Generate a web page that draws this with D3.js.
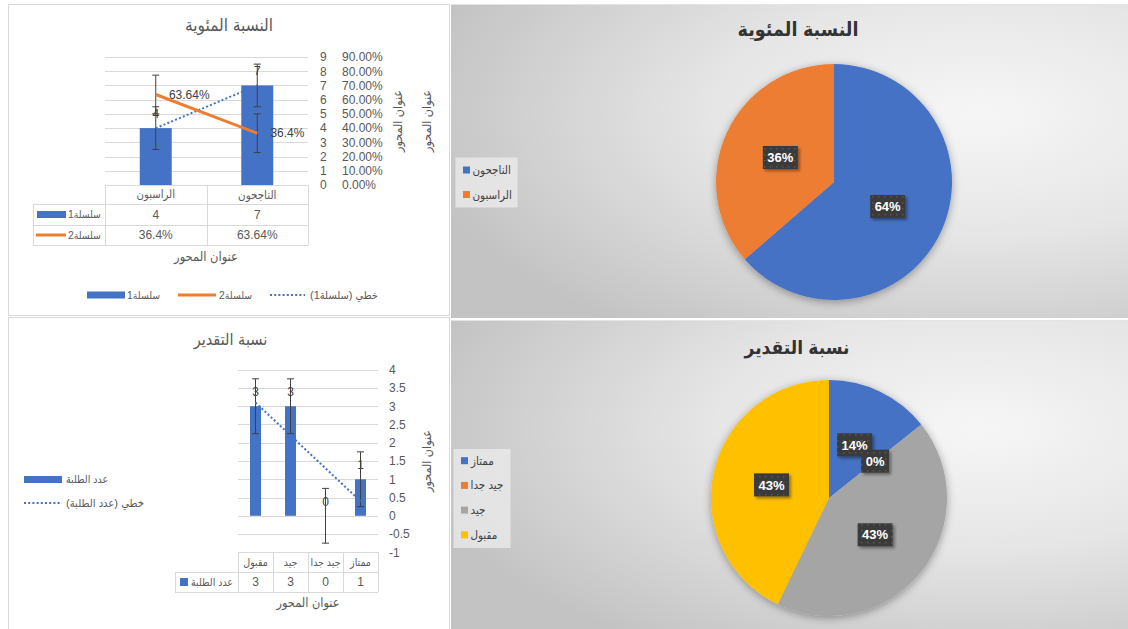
<!DOCTYPE html>
<html><head><meta charset="utf-8">
<script src="https://cdn.jsdelivr.net/npm/d3@7"></script>
<style>
html,body{margin:0;padding:0;background:#fff;}
svg{display:block;font-family:"Liberation Sans","DejaVu Sans Condensed","DejaVu Sans",sans-serif;}
</style></head><body>
<svg id="chart" width="1128" height="629"></svg>
<script>
// ---------- DATA ----------
// Chart 1 (top-left): النسبة المئوية
const c1Title = "النسبة المئوية";
const c1Categories = ["الراسبون", "الناجحون"];
const c1Series1 = [4, 7];              // سلسلة1 (bars)
const c1Series2 = [0.364, 0.6364];     // سلسلة2 (line, secondary axis, reversed category order)
const c1Series2Labels = ["36.4%", "63.64%"];
const c1Err1 = 1.5;                    // standard error of سلسلة1
const c1Err2 = 0.136;                  // standard error of سلسلة2
const c1YTicks = [0, 1, 2, 3, 4, 5, 6, 7, 8, 9];
const c1Y2Ticks = [0, 0.1, 0.2, 0.3, 0.4, 0.5, 0.6, 0.7, 0.8, 0.9];
const c1SeriesNames = ["سلسلة1", "سلسلة2", "خطي (سلسلة1)"];
const axisTitle = "عنوان المحور";

// Chart 2 (bottom-left): نسبة التقدير
const c2Title = "نسبة التقدير";
const c2Categories = ["مقبول", "جيد", "جيد جدا", "ممتاز"];
const c2Values = [3, 3, 0, 1];
const c2Err = 0.75;
const c2YTicks = [-1, -0.5, 0, 0.5, 1, 1.5, 2, 2.5, 3, 3.5, 4];
const c2SeriesNames = ["عدد الطلبة", "خطي (عدد الطلبة)"];

// Pie 1 (top-right)
const p1Title = "النسبة المئوية";
const p1Categories = ["الناجحون", "الراسبون"];
const p1Values = [7, 4];
const p1Colors = ["#4472C4", "#ED7D31"];

// Pie 2 (bottom-right)
const p2Title = "نسبة التقدير";
const p2Categories = ["ممتاز", "جيد جدا", "جيد", "مقبول"];
const p2Values = [1, 0, 3, 3];
const p2Colors = ["#4472C4", "#ED7D31", "#A5A5A5", "#FFC000"];

// ---------- HELPERS ----------
const BLUE = "#4472C4", ORANGE = "#ED7D31", TXT = "#595959", LBL = "#404040", GRID = "#d9d9d9";
const svg = d3.select("#chart");
const defs = svg.append("defs");

const grad = defs.append("radialGradient").attr("id", "bg")
  .attr("cx", 0.78).attr("cy", 0.35).attr("r", 0.85).attr("fx", 0.78).attr("fy", 0.35);
grad.append("stop").attr("offset", 0).attr("stop-color", "#f6f6f6");
grad.append("stop").attr("offset", 0.45).attr("stop-color", "#e6e6e6");
grad.append("stop").attr("offset", 1).attr("stop-color", "#c3c3c3");

const pat = defs.append("pattern").attr("id", "dots").attr("width", 6).attr("height", 6)
  .attr("patternUnits", "userSpaceOnUse");
pat.append("rect").attr("width", 6).attr("height", 6).attr("fill", "#3b3b3b");
pat.append("rect").attr("x", 2).attr("y", 2).attr("width", 1.5).attr("height", 1.5).attr("fill", "#575757");

const sh = defs.append("filter").attr("id", "shadow").attr("x", "-30%").attr("y", "-30%")
  .attr("width", "160%").attr("height", "160%");
sh.append("feDropShadow").attr("dx", 0).attr("dy", 2).attr("stdDeviation", 4)
  .attr("flood-color", "#000").attr("flood-opacity", 0.35);
const sh2 = defs.append("filter").attr("id", "shadow2").attr("x", "-30%").attr("y", "-30%")
  .attr("width", "160%").attr("height", "160%");
sh2.append("feDropShadow").attr("dx", 2).attr("dy", 2).attr("stdDeviation", 1.5)
  .attr("flood-color", "#000").attr("flood-opacity", 0.4);

// text helper; o.w = target rendered width (font size is adjusted toward it, min 10px)
function txt(g, s, x, y, o = {}) {
  let size = o.size || 12;
  const t = g.append("text").text(s)
    .attr("x", x).attr("y", y).attr("dy", "0.35em")
    .attr("text-anchor", "middle")
    .attr("font-size", size)
    .attr("fill", o.fill || TXT)
    .attr("direction", o.rtl ? "rtl" : null)
    .attr("font-weight", o.bold ? "bold" : null);
  if (o.transform) t.attr("transform", o.transform);
  let w = t.node().getBBox().width;
  if (o.w && w > 0) {
    size = Math.max(o.min || 10, size * o.w / w);
    t.attr("font-size", size.toFixed(2));
    w = t.node().getBBox().width;
  }
  if (o.align === "left" || o.align === "right") {
    t.attr("x", o.align === "left" ? x + w / 2 : x - w / 2);
  }
  return t;
}
function linreg(vals) {
  const xs = vals.map((_, i) => i + 1);
  const mx = d3.mean(xs), my = d3.mean(vals);
  const b = d3.sum(xs.map((x, i) => (x - mx) * (vals[i] - my))) / d3.sum(xs.map(x => (x - mx) ** 2));
  return x => my + b * (x - mx);
}
function errBar(g, x, yA, yB) {
  g.append("line").attr("x1", x).attr("x2", x).attr("y1", yA).attr("y2", yB);
  g.append("line").attr("x1", x - 3.5).attr("x2", x + 3.5).attr("y1", yA).attr("y2", yA);
  g.append("line").attr("x1", x - 3.5).attr("x2", x + 3.5).attr("y1", yB).attr("y2", yB);
}
function hline(g, x1, x2, y) {
  g.append("line").attr("x1", x1).attr("x2", x2).attr("y1", y).attr("y2", y).attr("stroke", GRID);
}
function vline(g, x, y1, y2) {
  g.append("line").attr("x1", x).attr("x2", x).attr("y1", y1).attr("y2", y2).attr("stroke", GRID);
}

// ---------- CHART 1 ----------
(function () {
  const g = svg.append("g");
  g.append("rect").attr("x", 8.5).attr("y", 4.5).attr("width", 441).attr("height", 311)
    .attr("fill", "#fff").attr("stroke", GRID);
  txt(g, c1Title, 229, 25, { size: 14, rtl: true, w: 88 });

  const x = d3.scaleBand().domain(c1Categories).range([105, 308]);
  const x2 = d3.scaleBand().domain(c1Categories.slice().reverse()).range([105, 308]);
  const y = d3.scaleLinear().domain([0, 9]).range([185, 57]);
  const y2 = d3.scaleLinear().domain([0, 0.9]).range([185, 57]);
  const bw = x.bandwidth(), barW = bw * 0.315;

  c1YTicks.filter(d => d > 0).forEach(d => hline(g, 105, 308, Math.round(y(d)) + 0.5));

  const ax1 = g.append("g").attr("transform", "translate(320,0)")
    .call(d3.axisRight(y).tickValues(c1YTicks).tickSize(0).tickPadding(0).tickFormat(d3.format("d")));
  const ax2 = g.append("g").attr("transform", "translate(342,0)")
    .call(d3.axisRight(y2).tickValues(c1Y2Ticks).tickSize(0).tickPadding(0).tickFormat(d3.format(".2%")));
  [ax1, ax2].forEach(a => {
    a.select(".domain").remove();
    a.attr("font-size", 12).attr("font-family", null).attr("color", TXT);
  });
  [398, 427].forEach(px => {
    txt(g, axisTitle, 0, 0, { size: 12, rtl: true, w: 63, transform: `translate(${px},121) rotate(-90)` });
  });

  // bars
  g.selectAll("rect.bar").data(c1Series1).join("rect")
    .attr("x", (d, i) => x(c1Categories[i]) + (bw - barW) / 2)
    .attr("width", barW)
    .attr("y", d => y(d)).attr("height", d => y(0) - y(d)).attr("fill", BLUE);

  const eg = g.append("g").attr("stroke", "#404040").attr("stroke-width", 1);
  c1Series1.forEach((d, i) => errBar(eg, x(c1Categories[i]) + bw / 2, y(d + c1Err1), y(d - c1Err1)));

  // trendline
  const tr = linreg(c1Series1);
  g.append("line")
    .attr("x1", x(c1Categories[0]) + bw / 2).attr("y1", y(tr(1)))
    .attr("x2", x(c1Categories[c1Categories.length - 1]) + bw / 2).attr("y2", y(tr(c1Categories.length)))
    .attr("stroke", BLUE).attr("stroke-width", 2).attr("stroke-dasharray", "2,2.2");

  // line series
  const pts = c1Series2.map((d, i) => [x2(c1Categories[i]) + bw / 2, y2(d)]);
  g.append("path").attr("d", d3.line()(pts.slice().sort((a, b) => a[0] - b[0])))
    .attr("fill", "none").attr("stroke", ORANGE).attr("stroke-width", 3);
  c1Series2.forEach((d, i) => errBar(eg, pts[i][0], y2(d + c1Err2), y2(d - c1Err2)));

  // labels
  c1Series1.forEach((d, i) => txt(g, d, x(c1Categories[i]) + bw / 2, y(d) - 14.5, { fill: LBL }));
  c1Series2Labels.forEach((s, i) => txt(g, s, pts[i][0] + 13, pts[i][1], { fill: LBL, align: "left" }));

  // data table
  const cols = [105, ...c1Categories.map(c => x(c) + bw)];
  const r0 = 185, r1 = 204, r2 = 225, r3 = 245, lx = 33;
  hline(g, 105, 308, r0 + 0.5);
  [r1, r2, r3].forEach(r => hline(g, lx, 308, r + 0.5));
  vline(g, lx + 0.5, r1, r3);
  cols.forEach(c => vline(g, Math.round(c) + 0.5, r0, r3));
  c1Categories.forEach(c => txt(g, c, x(c) + bw / 2, (r0 + r1) / 2, { size: 11, rtl: true, w: 38.5 }));
  c1Series1.forEach((d, i) => txt(g, d, x(c1Categories[i]) + bw / 2, (r1 + r2) / 2));
  c1Series2Labels.forEach((s, i) => txt(g, s, x(c1Categories[i]) + bw / 2, (r2 + r3) / 2));
  g.append("rect").attr("x", 37).attr("y", 211).attr("width", 29).attr("height", 7).attr("fill", BLUE);
  g.append("line").attr("x1", 36).attr("x2", 66).attr("y1", 235).attr("y2", 235).attr("stroke", ORANGE).attr("stroke-width", 3);
  txt(g, c1SeriesNames[0], 101, (r1 + r2) / 2, { size: 11, rtl: true, align: "right", w: 33 });
  txt(g, c1SeriesNames[1], 101, (r2 + r3) / 2, { size: 11, rtl: true, align: "right", w: 33 });
  txt(g, axisTitle, 206, 257, { size: 12, rtl: true, w: 65 });

  // legend
  const ly = 295;
  g.append("rect").attr("x", 87).attr("y", ly - 3.5).attr("width", 38).attr("height", 7).attr("fill", BLUE);
  txt(g, c1SeriesNames[0], 127, ly, { size: 11, rtl: true, align: "left", w: 33 });
  g.append("line").attr("x1", 178).attr("x2", 216).attr("y1", ly).attr("y2", ly).attr("stroke", ORANGE).attr("stroke-width", 3);
  txt(g, c1SeriesNames[1], 219, ly, { size: 11, rtl: true, align: "left", w: 33 });
  g.append("line").attr("x1", 270).attr("x2", 305).attr("y1", ly).attr("y2", ly).attr("stroke", BLUE)
    .attr("stroke-width", 2).attr("stroke-dasharray", "2,2.2");
  txt(g, c1SeriesNames[2], 310, ly, { size: 11, rtl: true, align: "left", w: 68 });
})();

// ---------- CHART 2 ----------
(function () {
  const g = svg.append("g");
  g.append("rect").attr("x", 8.5).attr("y", 317.5).attr("width", 441).attr("height", 320)
    .attr("fill", "#fff").attr("stroke", GRID);
  txt(g, c2Title, 230.5, 339, { size: 14, rtl: true, w: 75 });

  const x = d3.scaleBand().domain(c2Categories).range([238, 378]);
  const y = d3.scaleLinear().domain([-1, 4]).range([552.3, 369.7]);
  const bw = x.bandwidth(), barW = bw * 0.314;

  c2YTicks.filter(d => d > -1).forEach(d => hline(g, 238, 378, Math.round(y(d)) + 0.5));
  const ax = g.append("g").attr("transform", "translate(389,0)")
    .call(d3.axisRight(y).tickValues(c2YTicks).tickSize(0).tickPadding(0).tickFormat(d => String(d)));
  ax.select(".domain").remove();
  ax.attr("font-size", 12).attr("font-family", null).attr("color", TXT);
  txt(g, axisTitle, 0, 0, { size: 12, rtl: true, w: 63, transform: `translate(427,461) rotate(-90)` });

  g.selectAll("rect.bar").data(c2Values).join("rect")
    .attr("x", (d, i) => x(c2Categories[i]) + (bw - barW) / 2)
    .attr("width", barW)
    .attr("y", d => y(Math.max(d, 0))).attr("height", d => Math.abs(y(0) - y(d))).attr("fill", BLUE);

  const eg = g.append("g").attr("stroke", "#404040").attr("stroke-width", 1);
  c2Values.forEach((d, i) => errBar(eg, x(c2Categories[i]) + bw / 2, y(d + c2Err), y(d - c2Err)));

  const tr = linreg(c2Values);
  g.append("line")
    .attr("x1", x(c2Categories[0]) + bw / 2).attr("y1", y(tr(1)))
    .attr("x2", x(c2Categories[c2Categories.length - 1]) + bw / 2).attr("y2", y(tr(c2Categories.length)))
    .attr("stroke", BLUE).attr("stroke-width", 2).attr("stroke-dasharray", "2,2.2");

  c2Values.forEach((d, i) => txt(g, d, x(c2Categories[i]) + bw / 2, y(d) - 14, { fill: LBL }));

  // legend (left)
  g.append("rect").attr("x", 24).attr("y", 476).attr("width", 38).attr("height", 7).attr("fill", BLUE);
  txt(g, c2SeriesNames[0], 66, 479, { size: 11, rtl: true, align: "left", w: 42 });
  g.append("line").attr("x1", 24).attr("x2", 62).attr("y1", 503).attr("y2", 503).attr("stroke", BLUE)
    .attr("stroke-width", 2).attr("stroke-dasharray", "2,2.2");
  txt(g, c2SeriesNames[1], 66, 503, { size: 11, rtl: true, align: "left", w: 78 });

  // table
  const cols = [238, ...c2Categories.map(c => x(c) + bw)];
  const r0 = 552, r1 = 572, r2 = 592, lx = 175;
  hline(g, 238, 378, r0 + 0.5);
  [r1, r2].forEach(r => hline(g, lx, 378, r + 0.5));
  vline(g, lx + 0.5, r1, r2);
  cols.forEach(c => vline(g, Math.round(c) + 0.5, r0, r2));
  c2Categories.forEach((c, i) => txt(g, c, x(c) + bw / 2, (r0 + r1) / 2, { size: 10.5, rtl: true }));
  c2Values.forEach((d, i) => txt(g, d, x(c2Categories[i]) + bw / 2, (r1 + r2) / 2));
  g.append("rect").attr("x", 180).attr("y", 578).attr("width", 8).attr("height", 8).attr("fill", BLUE);
  txt(g, c2SeriesNames[0], 233, (r1 + r2) / 2, { size: 11, rtl: true, align: "right", w: 42 });
  txt(g, axisTitle, 308, 603, { size: 12, rtl: true, w: 64 });
})();

// ---------- PIES ----------
function drawPie(o) {
  const g = svg.append("g");
  g.append("rect").attr("x", 451).attr("y", o.top).attr("width", 677).attr("height", o.h)
    .attr("fill", "url(#bg)");
  g.append("line").attr("x1", 451).attr("x2", 1128).attr("y1", o.top + 0.5).attr("y2", o.top + 0.5)
    .attr("stroke", "#e4e4e4");
  txt(g, o.title, o.tx, o.ty, { size: 20, bold: true, fill: "#333", rtl: true, w: o.tw });

  const total = d3.sum(o.values);
  const pie = d3.pie().sort(null).value(d => d)(o.values);
  const arc = d3.arc().innerRadius(0).outerRadius(o.r);
  const pg = g.append("g").attr("transform", `translate(${o.cx},${o.cy})`);
  pg.append("g").attr("filter", "url(#shadow)")
    .selectAll("path").data(pie).join("path")
    .attr("d", arc).attr("fill", (d, i) => o.colors[i]);

  pie.forEach((d, i) => {
    const [lx, ly] = arc.centroid(d);
    const s = Math.round(o.values[i] / total * 100) + "%";
    const lg = pg.append("g");
    const w = s.length > 2 ? 35 : 28;
    lg.append("rect").attr("x", lx - w / 2).attr("y", ly - 11.5).attr("width", w).attr("height", 23)
      .attr("fill", "url(#dots)").attr("filter", "url(#shadow2)");
    lg.append("text").text(s).attr("x", lx).attr("y", ly).attr("dy", "0.36em")
      .attr("text-anchor", "middle").attr("font-size", 13).attr("font-weight", "bold").attr("fill", "#fff");
  });

  // legend
  g.append("rect").attr("x", o.lx).attr("y", o.ly).attr("width", o.lw).attr("height", o.lh)
    .attr("fill", "#ececec").attr("opacity", 0.75);
  o.cats.forEach((c, i) => {
    const yy = o.ly + o.lpad + i * o.lstep;
    g.append("rect").attr("x", o.lx + 7.5).attr("y", yy - 3.5).attr("width", 7).attr("height", 7).attr("fill", o.colors[i]);
    txt(g, c, o.lx + 17, yy, { size: 11.5, rtl: true, align: "left", fill: LBL });
  });
}
drawPie({ top: 4, h: 314, title: p1Title, tx: 798, ty: 29, tw: 121, cx: 834, cy: 182, r: 118,
  values: p1Values, colors: p1Colors, cats: p1Categories,
  lx: 455.5, ly: 157.5, lw: 62, lh: 50, lpad: 12.5, lstep: 24.5 });
drawPie({ top: 320, h: 309, title: p2Title, tx: 797, ty: 347, tw: 106, cx: 829, cy: 498, r: 118,
  values: p2Values, colors: p2Colors, cats: p2Categories,
  lx: 453.5, ly: 449, lw: 57, lh: 99, lpad: 11.7, lstep: 24.7 });
</script>
</body></html>
